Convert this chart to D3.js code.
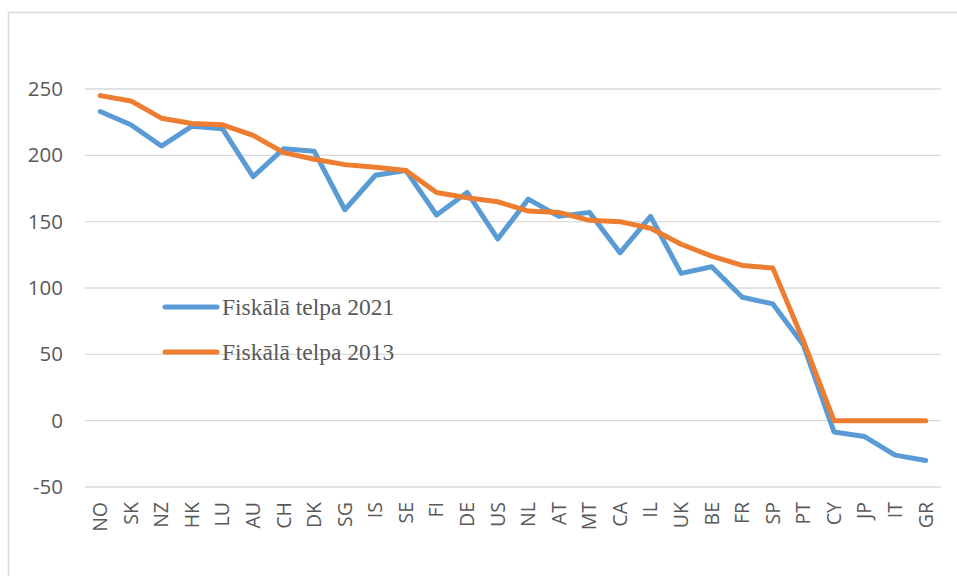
<!DOCTYPE html>
<html>
<head>
<meta charset="utf-8">
<script src="https://cdn.jsdelivr.net/npm/d3@7"></script>
<style>
  body { margin: 0; background: #fff; }
  svg { display: block; }
</style>
</head>
<body>
<svg width="957" height="576"></svg>
<script>
let countries = ['NO', 'SK', 'NZ', 'HK', 'LU', 'AU', 'CH', 'DK', 'SG', 'IS', 'SE', 'FI', 'DE', 'US',
    'NL', 'AT', 'MT', 'CA', 'IL', 'UK', 'BE', 'FR', 'SP', 'PT', 'CY', 'JP', 'IT', 'GR'];
let space2021 = [233, 223, 207, 222, 220, 184, 205, 203, 159, 185, 188.5, 155, 172, 137,
    167, 154, 157, 126.5, 154, 111, 116, 93, 88, 57, -8.5, -12, -26, -30];
let space2013 = [245, 241, 228, 224, 223, 215, 202, 197, 193, 191, 188.5, 172, 168, 165,
    158, 157, 151, 150, 145, 133, 124, 117, 115, 60, 0, 0, 0, 0];
let yTicks = [-50, 0, 50, 100, 150, 200, 250];
let seriesNames = ['Fiskālā telpa 2021', 'Fiskālā telpa 2013'];
let seriesColors = ['#5b9bd5', '#ed7d31'];

let svg = d3.select('svg');
let left = 85, right = 941;

let x = d3.scaleBand().domain(countries).range([left, right]);
let y = d3.scaleLinear().domain([-50, 250]).range([487, 89]);

// outer frame
svg.append('rect')
    .attr('x', 8.5).attr('y', 12.5)
    .attr('width', 970).attr('height', 600)
    .attr('fill', 'none')
    .attr('stroke', '#d9d9d9')
    .attr('stroke-width', 1.5);

// gridlines
svg.append('g')
    .selectAll('line')
    .data(yTicks)
    .join('line')
    .attr('x1', left).attr('x2', right)
    .attr('y1', function(d) { return y(d); })
    .attr('y2', function(d) { return y(d); })
    .attr('stroke', '#d9d9d9')
    .attr('stroke-width', 1.3);

// y axis labels (plain hyphen for negatives, like the original)
let yAxis = d3.axisLeft(y).tickValues(yTicks).tickSize(0).tickPadding(0)
    .tickFormat(function(d) { return String(d); });
let yg = svg.append('g')
    .attr('transform', 'translate(63,0)')
    .call(yAxis);
yg.select('.domain').remove();
yg.selectAll('text')
    .attr('fill', '#595959')
    .style('font-family', 'Open Sans, sans-serif')
    .style('font-size', '20.5px');

// x axis labels
let xAxis = d3.axisBottom(x).tickSize(0).tickPadding(0);
let xg = svg.append('g')
    .attr('transform', 'translate(0,' + 502 + ')')
    .call(xAxis);
xg.select('.domain').remove();
xg.selectAll('text')
    .attr('fill', '#595959')
    .attr('transform', 'rotate(-90)')
    .attr('text-anchor', 'end')
    .attr('dy', '0.35em')
    .attr('x', 0).attr('y', 0)
    .style('font-family', 'Open Sans, sans-serif')
    .style('font-size', '19.5px');
xg.selectAll('.tick')
    .attr('transform', function(d) { return 'translate(' + (x(d) + x.bandwidth() / 2) + ',0)'; });

// lines
let line = d3.line()
    .x(function(d, i) { return x(countries[i]) + x.bandwidth() / 2; })
    .y(function(d) { return y(d); });

[space2021, space2013].forEach(function(vals, i) {
    svg.append('path')
        .datum(vals)
        .attr('d', line)
        .attr('fill', 'none')
        .attr('stroke', seriesColors[i])
        .attr('stroke-width', 5)
        .attr('stroke-linejoin', 'round')
        .attr('stroke-linecap', 'round');
});

// legend
let legend = svg.append('g')
    .selectAll('g')
    .data(seriesNames)
    .join('g')
    .attr('transform', function(d, i) { return 'translate(165,' + (307 + i * 45) + ')'; });
legend.append('line')
    .attr('x1', 0).attr('x2', 52)
    .attr('stroke', function(d, i) { return seriesColors[i]; })
    .attr('stroke-width', 5)
    .attr('stroke-linecap', 'round');
legend.append('text')
    .attr('x', 57)
    .attr('dy', '0.32em')
    .attr('fill', '#595959')
    .style('font-family', 'Liberation Serif, Times New Roman, serif')
    .style('font-size', '23.5px')
    .text(function(d) { return d; });
</script>
</body>
</html>
